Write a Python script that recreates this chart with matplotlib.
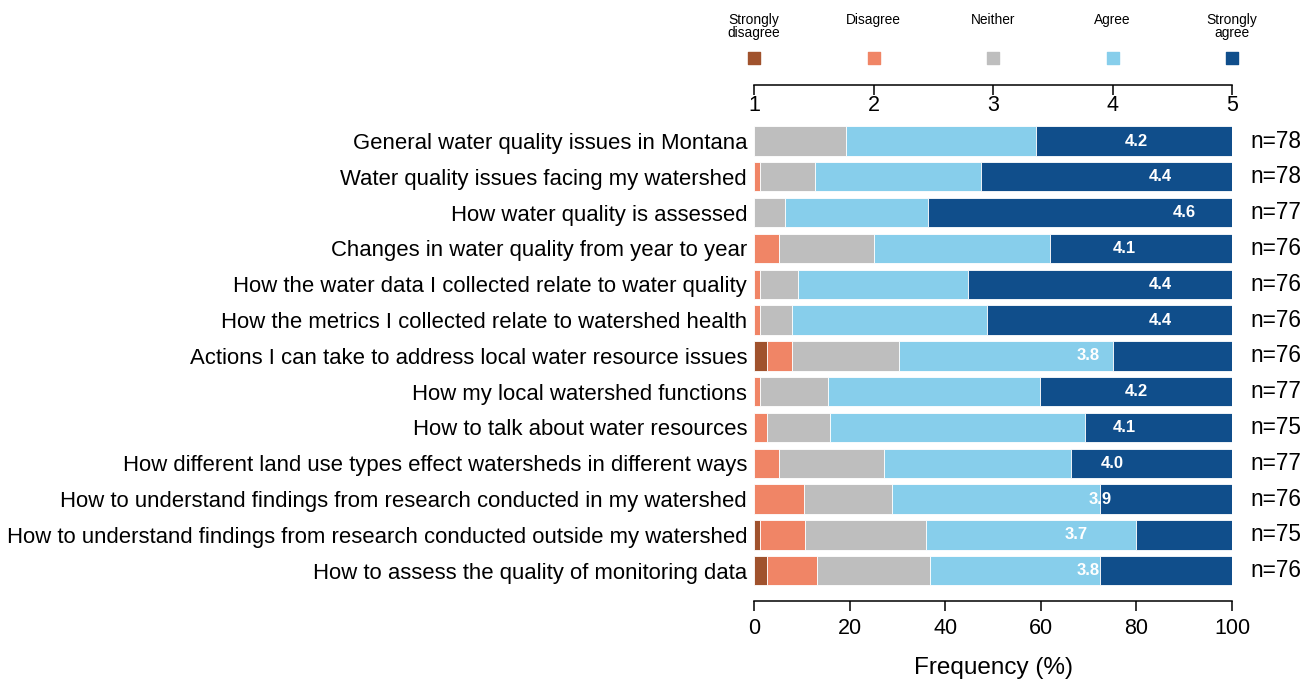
import matplotlib
matplotlib.use("Agg")
import matplotlib.pyplot as plt
import numpy as np

plt.rcParams['font.family'] = ['Liberation Sans', 'DejaVu Sans']

# Survey items (top to bottom)
items = [
    "General water quality issues in Montana",
    "Water quality issues facing my watershed",
    "How water quality is assessed",
    "Changes in water quality from year to year",
    "How the water data I collected relate to water quality",
    "How the metrics I collected relate to watershed health",
    "Actions I can take to address local water resource issues",
    "How my local watershed functions",
    "How to talk about water resources",
    "How different land use types effect watersheds in different ways",
    "How to understand findings from research conducted in my watershed",
    "How to understand findings from research conducted outside my watershed",
    "How to assess the quality of monitoring data",
]

# Response counts per item
strongly_disagree = [0, 0, 0, 0, 0, 0, 2, 0, 0, 0, 0, 1, 2]
disagree          = [0, 1, 0, 4, 1, 1, 4, 1, 2, 4, 8, 7, 8]
neither           = [15, 9, 5, 15, 6, 5, 17, 11, 10, 17, 14, 19, 18]
agree             = [31, 27, 23, 28, 27, 31, 34, 34, 40, 30, 33, 33, 27]
strongly_agree    = [32, 41, 49, 29, 42, 39, 19, 31, 23, 26, 21, 15, 21]

means = [4.2, 4.4, 4.6, 4.1, 4.4, 4.4, 3.8, 4.2, 4.1, 4.0, 3.9, 3.7, 3.8]
n_resp = [78, 78, 77, 76, 76, 76, 76, 77, 75, 77, 76, 75, 76]

levels = ["Strongly\ndisagree", "Disagree", "Neither", "Agree", "Strongly\nagree"]
colors = ["#A0522D", "#F08566", "#BEBEBE", "#87CEEB", "#104E8B"]

W, H = 1312, 681
fig = plt.figure(figsize=(W / 100, H / 100), dpi=100)

left = 754 / W
width = 478 / W
ax = fig.add_axes([left, 1 - 588.6 / H, width, 465.5 / H])

counts = np.array([strongly_disagree, disagree, neither, agree, strongly_agree], dtype=float)
pct = counts / np.array(n_resp) * 100
y = np.arange(len(items))
cum = np.zeros(len(items))
for k in range(5):
    ax.barh(y, pct[k], left=cum, height=0.82, color=colors[k],
            edgecolor='white', linewidth=0.6)
    cum += pct[k]

for i, m in enumerate(means):
    ax.text((m - 1) / 4 * 100, i, f"{m:.1f}", color='white', fontweight='bold',
            fontsize=12, ha='center', va='center')
    ax.text(103.8, i, f"n={n_resp[i]}", fontsize=16.3, ha='left', va='center',
            clip_on=False)

ax.set_xlim(0, 100)
ax.set_ylim(len(items) - 0.5, -0.5)
ax.set_yticks(y)
ax.set_yticklabels(items, fontsize=15.9)
ax.tick_params(axis='y', length=0, pad=5)
for s in ['top', 'right', 'left']:
    ax.spines[s].set_visible(False)
ax.spines['bottom'].set_position(('outward', 9))
ax.spines['bottom'].set_bounds(0, 100)
ax.spines['bottom'].set_linewidth(1.1)
ax.set_xticks([0, 20, 40, 60, 80, 100])
ax.tick_params(axis='x', length=7, width=1.1, labelsize=15.5, pad=5)
ax.set_xlabel("Frequency (%)", fontsize=17.5, labelpad=13)

# Top mean scale with legend
axt = fig.add_axes([left, 1 - 85 / H, width, 85 / H])
axt.set_xlim(1, 5)
axt.set_ylim(0, 85)
for s in ['top', 'right', 'left']:
    axt.spines[s].set_visible(False)
axt.spines['bottom'].set_linewidth(1.1)
axt.set_xticks([1, 2, 3, 4, 5])
axt.set_yticks([])
axt.tick_params(axis='x', length=7, width=1.1, labelsize=15.5, pad=0)
axt.patch.set_visible(False)
for k in range(5):
    axt.scatter(k + 1, 85 - 58, marker='s', s=75, color=colors[k], clip_on=False)
    axt.text(k + 1, 85 - 13, levels[k], ha='center', va='top', fontsize=9.9,
             linespacing=0.95)

fig.savefig("out.png", dpi=100)
